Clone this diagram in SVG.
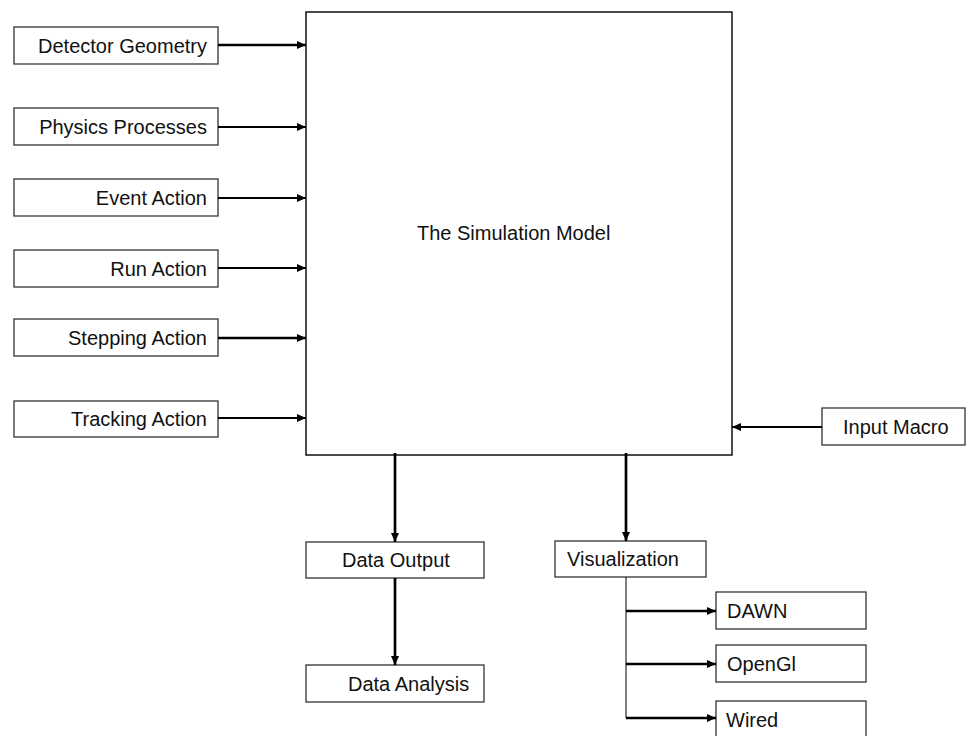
<svg xmlns="http://www.w3.org/2000/svg" width="966" height="736" viewBox="0 0 966 736">
<style>
.box{fill:#fff;stroke:#333;stroke-width:1.3}
.main{fill:#fff;stroke:#111;stroke-width:1.5}
text{font-family:"Liberation Sans",Arial,sans-serif;font-size:20px;fill:#111}
.end{text-anchor:end}
.c{fill:none;stroke:#000;stroke-width:2}
.t{stroke-width:2.7}
.thin{fill:none;stroke:#000;stroke-width:1}
</style>
<defs>
<marker id="ah" markerUnits="userSpaceOnUse" markerWidth="12" markerHeight="12" refX="10" refY="5" orient="auto">
<path d="M1,1 L10,5 L1,9 Z" fill="#000"/>
</marker>
</defs>
<rect width="966" height="736" fill="#fff"/>
<g id="main"><rect class="main" x="306" y="12" width="426" height="443"/><text x="417" y="240">The Simulation Model</text></g>
<g id="detector"><rect class="box" x="14" y="27" width="204" height="37"/><text class="end" x="207" y="53">Detector Geometry</text></g>
<g id="physics"><rect class="box" x="14" y="108" width="204" height="37"/><text class="end" x="207" y="134">Physics Processes</text></g>
<g id="event"><rect class="box" x="14" y="179" width="204" height="37"/><text class="end" x="207" y="205">Event Action</text></g>
<g id="run"><rect class="box" x="14" y="250" width="204" height="37"/><text class="end" x="207" y="276">Run Action</text></g>
<g id="stepping"><rect class="box" x="14" y="319" width="204" height="37"/><text class="end" x="207" y="345">Stepping Action</text></g>
<g id="tracking"><rect class="box" x="14" y="401" width="204" height="36"/><text class="end" x="207" y="426">Tracking Action</text></g>
<g id="input"><rect class="box" x="822" y="408" width="143" height="37"/><text x="843" y="434">Input Macro</text></g>
<g id="dataout"><rect class="box" x="306" y="542" width="178" height="36"/><text x="342" y="567">Data Output</text></g>
<g id="analysis"><rect class="box" x="306" y="665" width="178" height="37"/><text x="348" y="691">Data Analysis</text></g>
<g id="vis"><rect class="box" x="555" y="541" width="151" height="36"/><text x="567" y="566">Visualization</text></g>
<g id="dawn"><rect class="box" x="716" y="592" width="150" height="37"/><text x="727" y="618">DAWN</text></g>
<g id="opengl"><rect class="box" x="716" y="645" width="150" height="37"/><text x="727" y="671">OpenGl</text></g>
<g id="wired"><rect class="box" x="716" y="701" width="150" height="40"/><text x="726" y="727">Wired</text></g>
<g id="connectors">
<path class="c t" d="M218,45 H306" marker-end="url(#ah)"/>
<path class="c" d="M218,127 H306" marker-end="url(#ah)"/>
<path class="c" d="M218,198 H306" marker-end="url(#ah)"/>
<path class="c" d="M218,268 H306" marker-end="url(#ah)"/>
<path class="c t" d="M218,338 H306" marker-end="url(#ah)"/>
<path class="c" d="M218,418 H306" marker-end="url(#ah)"/>
<path class="c" d="M822,427 H732" marker-end="url(#ah)"/>
<path class="c t" d="M395,453 V542" marker-end="url(#ah)"/>
<path class="c t" d="M395,578 V665" marker-end="url(#ah)"/>
<path class="c t" d="M626,453 V541" marker-end="url(#ah)"/>
<path class="thin" d="M626,577 V718"/>
<path class="c t" d="M626,611 H716" marker-end="url(#ah)"/>
<path class="c t" d="M626,664 H716" marker-end="url(#ah)"/>
<path class="c t" d="M626,718 H716" marker-end="url(#ah)"/>
</g>
</svg>
